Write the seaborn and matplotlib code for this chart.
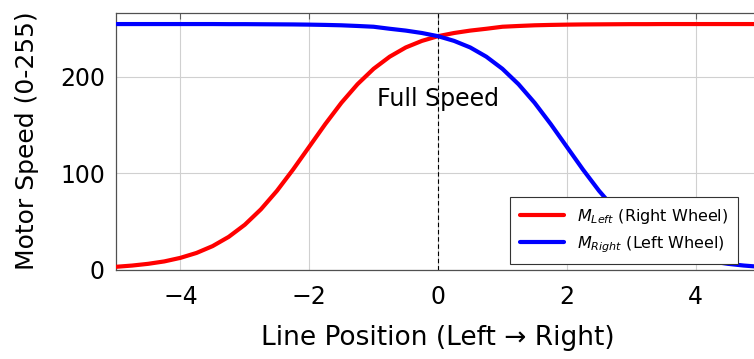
import numpy as np
import pandas as pd
import matplotlib
matplotlib.use("Agg")
import matplotlib.pyplot as plt
import seaborn as sns

# =========================
# Data
# =========================

line_position = [-5.0, -4.75, -4.5, -4.25, -4.0, -3.75, -3.5, -3.25, -3.0, -2.75,
                 -2.5, -2.25, -2.0, -1.75, -1.5, -1.25, -1.0, -0.75, -0.5, -0.25,
                 0.0, 0.25, 0.5, 0.75, 1.0, 1.25, 1.5, 1.75, 2.0, 2.25,
                 2.5, 2.75, 3.0, 3.25, 3.5, 3.75, 4.0, 4.25, 4.5, 4.75, 5.0]

m_left = [2.8, 4.1, 5.9, 8.4, 12.1, 17.2, 24.3, 33.9, 46.5, 62.5,
          81.8, 103.9, 127.5, 151.1, 173.2, 192.5, 208.5, 221.1, 230.7, 237.5,
          242.4, 245.7, 248.2, 250.1, 252.2, 253.0, 253.7, 254.1, 254.4, 254.6,
          254.7, 254.8, 254.9, 254.9, 255.0, 255.0, 255.0, 255.0, 255.0, 255.0, 255.0]

m_right = [255.0, 255.0, 255.0, 255.0, 255.0, 255.0, 255.0, 254.9, 254.9, 254.8,
           254.7, 254.6, 254.4, 254.1, 253.7, 253.0, 252.2, 250.1, 248.2, 245.7,
           242.4, 237.5, 230.7, 221.1, 208.5, 192.5, 173.2, 151.1, 127.5, 103.9,
           81.8, 62.5, 46.5, 33.9, 24.3, 17.2, 12.1, 8.4, 5.9, 4.1, 2.8]

series_labels = [r"$M_{Left}$ (Right Wheel)", r"$M_{Right}$ (Left Wheel)"]
series_colors = ["#ff0000", "#0000ff"]

x_ticks = [-4, -2, 0, 2, 4]
y_ticks = [0, 100, 200]

# =========================
# Style
# =========================

sns.set_style("white")
plt.rcParams["font.family"] = ["DejaVu Sans"]
plt.rcParams["mathtext.fontset"] = "dejavusans"
plt.rcParams["text.color"] = "black"
plt.rcParams["axes.labelcolor"] = "black"
plt.rcParams["xtick.labelcolor"] = "black"
plt.rcParams["ytick.labelcolor"] = "black"

df = pd.DataFrame({
    "pos": line_position * 2,
    "speed": m_left + m_right,
    "series": [series_labels[0]] * len(m_left) + [series_labels[1]] * len(m_right),
})

fig = plt.figure(figsize=(7.54, 3.59), dpi=100)
ax = fig.add_axes([116 / 754, 89.5 / 359, 644 / 754, 257 / 359])

sns.lineplot(data=df, x="pos", y="speed", hue="series",
             palette=dict(zip(series_labels, series_colors)),
             linewidth=3, ax=ax, zorder=3)

ax.axvline(0, color="black", linestyle=(0, (4, 2.5)), linewidth=0.8, zorder=2)
ax.text(0, 177, "Full Speed", ha="center", va="center", fontsize=17, zorder=4)

ax.set_xlim(-5, 5)
ax.set_ylim(0, 267)
ax.set_xticks(x_ticks)
ax.set_yticks(y_ticks)
ax.set_xticklabels([f"{t}".replace("-", "\u2212") for t in x_ticks])
ax.grid(True, color="#d0d0d0", linewidth=0.8, zorder=0)
ax.tick_params(direction="in", length=4, color="#606060", labelsize=17,
               top=True, right=True)
ax.tick_params(axis="x", pad=11)
ax.tick_params(axis="y", pad=8)
for sp in ax.spines.values():
    sp.set_color("#505050")
    sp.set_linewidth(0.9)

ax.set_xlabel("Line Position (Left \u2192 Right)", fontsize=19, labelpad=12)
ax.set_ylabel("Motor Speed (0-255)", fontsize=18, labelpad=15)

leg = ax.legend(loc="lower right", bbox_to_anchor=(0.966, 0.021), fontsize=11.5,
                frameon=True, fancybox=False, framealpha=1, edgecolor="#333333",
                handlelength=2.8, borderpad=0.6, labelspacing=0.5, borderaxespad=0)
leg.get_frame().set_linewidth(0.8)
for h in leg.get_lines():
    h.set_linewidth(3)

fig.savefig("out.png", dpi=100)
